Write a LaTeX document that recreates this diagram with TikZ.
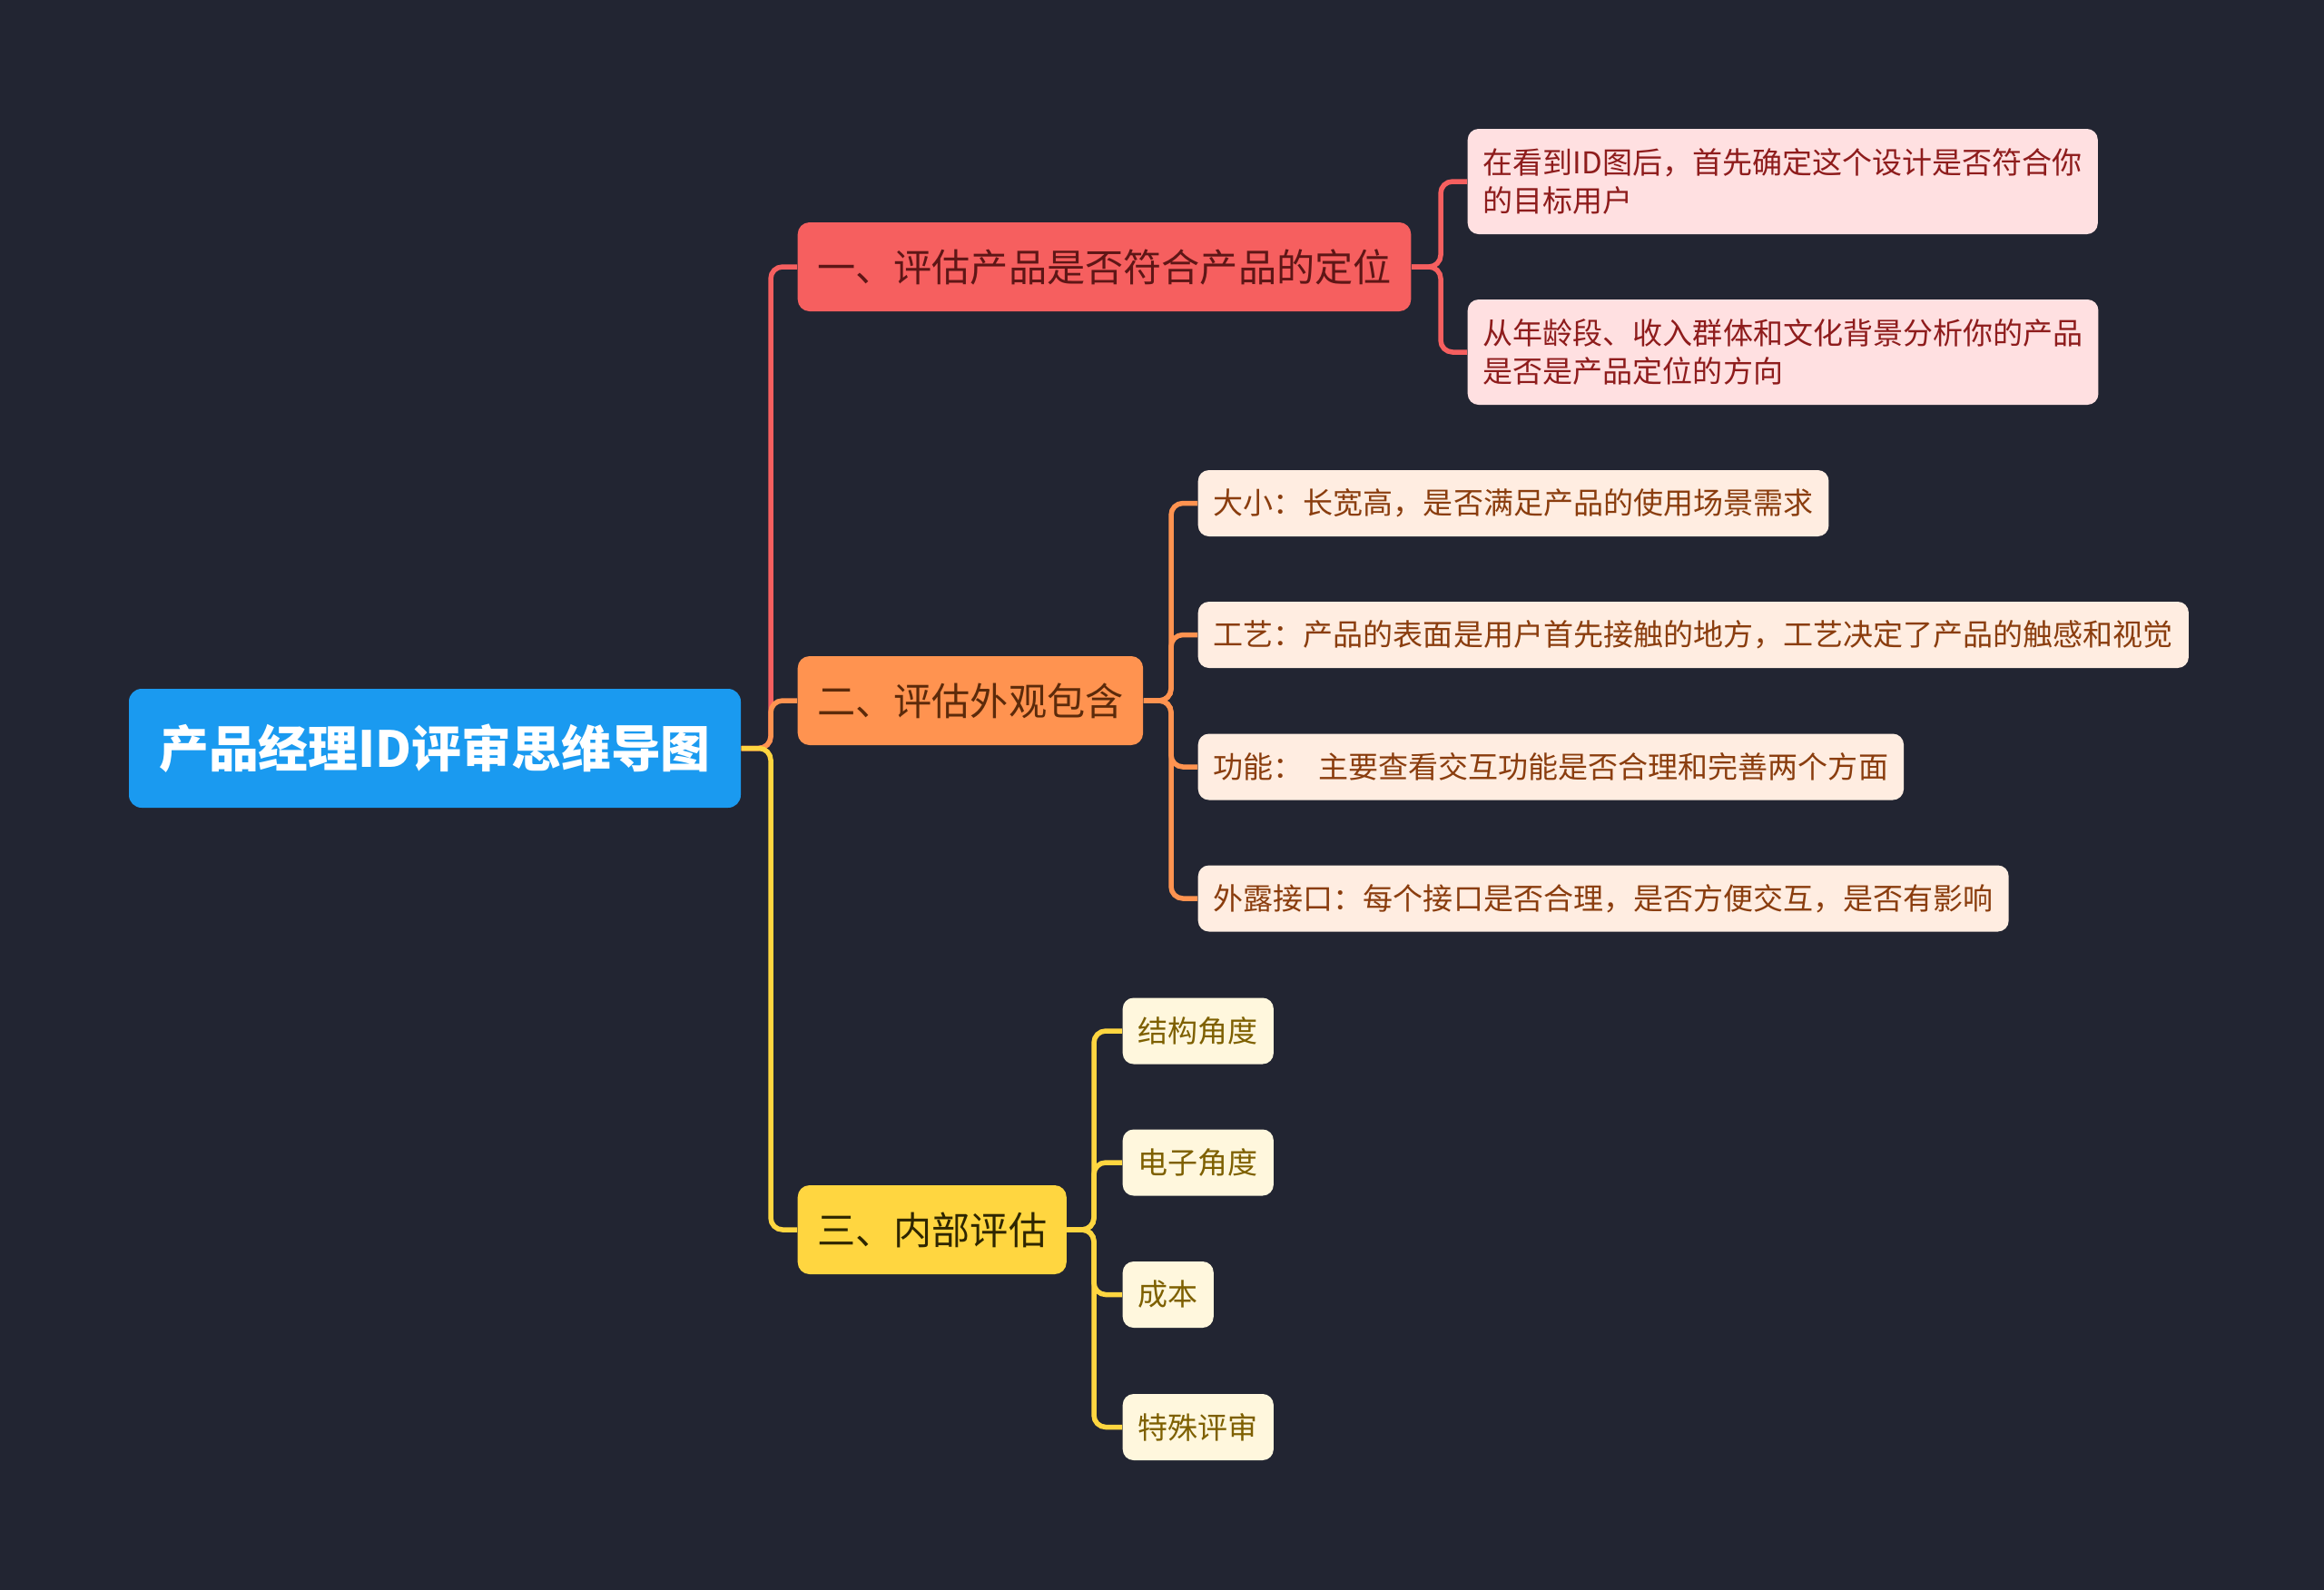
\documentclass[tikz,border=0pt]{standalone}
\usepackage{fontspec}
\newfontfamily\cjk{Noto Sans CJK SC}
\definecolor{bg}{HTML}{222532}
\definecolor{rootc}{HTML}{1A9AF0}
\definecolor{redc}{HTML}{F65F5F}
\definecolor{orac}{HTML}{FF9350}
\definecolor{yelc}{HTML}{FFD640}
\definecolor{redl}{HTML}{FFE0E1}
\definecolor{oral}{HTML}{FFEDE1}
\definecolor{yell}{HTML}{FFF7DD}
\definecolor{redt}{HTML}{5E1616}
\definecolor{orat}{HTML}{5C2A0A}
\definecolor{yelt}{HTML}{2E2600}
\definecolor{redlt}{HTML}{8E1C1C}
\definecolor{oralt}{HTML}{8A3D0E}
\definecolor{yellt}{HTML}{7E6000}
\begin{document}
\begin{tikzpicture}[x=1cm,y=-1cm,
  rootbox/.style={fill=rootc, rounded corners=0.14cm, text=white, font=\cjk\bfseries\fontsize{15.6}{18}\selectfont,
    minimum width=6.74cm, minimum height=1.31cm, inner sep=0pt, align=center},
  lvl/.style={rounded corners=0.13cm, anchor=west, font=\cjk\fontsize{12}{14}\selectfont,
    inner xsep=0.215cm, inner ysep=0pt, minimum height=0.98cm, align=left},
  leaf/.style={rounded corners=0.12cm, anchor=west, font=\cjk\fontsize{9.4}{12.1}\selectfont,
    inner xsep=0.17cm, inner ysep=0pt, minimum height=0.73cm, align=left},
  lr/.style={leaf, fill=redl, text=redlt, minimum height=1.16cm},
  lo/.style={leaf, fill=oral, text=oralt},
  ly/.style={leaf, fill=yell, text=yellt},
  conn/.style={line width=0.055cm, rounded corners=0.13cm}]
\fill[bg] (0,0) rectangle (25.6,17.52);
\useasboundingbox (0,0) rectangle (25.6,17.52);

\node[rootbox] (root) at (4.79,8.245) {产品经理ID评审思维导图};

\node[lvl, fill=redc, text=redt] (n1) at (8.78,2.94) {一、评估产品是否符合产品的定位};
\node[lvl, fill=orac, text=orat] (n2) at (8.78,7.72) {二、评估外观包含};
\node[lvl, fill=yelc, text=yelt] (n3) at (8.78,13.55) {三、内部评估};

\node[lr] (l1a) at (16.16,2.00) {在看到ID图后，首先确定这个设计是否符合你\\的目标用户};
\node[lr] (l1b) at (16.16,3.88) {从年龄段、收入群体和文化背景分析你的产品\\是否是产品定位的方向};

\node[lo] (l2a) at (13.19,5.545) {大小：长宽高，是否满足产品的使用场景需求};
\node[lo] (l2b) at (13.19,6.995) {工艺：产品的表面是用户首先接触的地方，工艺决定了产品的触感和视觉};
\node[lo] (l2c) at (13.19,8.45) {功能：\hspace{0.5em}主要查看交互功能是否合理和完善两个方面};
\node[lo] (l2d) at (13.19,9.90) {外露接口：每个接口是否合理，是否方便交互，是否有影响};

\node[ly] (l3a) at (12.36,11.36) {结构角度};
\node[ly] (l3b) at (12.36,12.81) {电子角度};
\node[ly] (l3c) at (12.36,14.265) {成本};
\node[ly] (l3d) at (12.36,15.725) {特殊评审};

\coordinate (j0) at (8.49,8.245);
\coordinate (j1) at (15.87,2.94);
\coordinate (j2) at (12.90,7.72);
\coordinate (j3) at (12.05,13.55);

\draw[conn, redc] (root.east) -- (j0) |- (n1.west);
\draw[conn, orac] (root.east) -- (j0) |- (n2.west);
\draw[conn, yelc] (root.east) -- (j0) |- (n3.west);

\draw[conn, redc] (n1.east) -- (j1) |- (l1a.west);
\draw[conn, redc] (n1.east) -- (j1) |- (l1b.west);

\draw[conn, orac] (n2.east) -- (j2) |- (l2a.west);
\draw[conn, orac] (n2.east) -- (j2) |- (l2b.west);
\draw[conn, orac] (n2.east) -- (j2) |- (l2c.west);
\draw[conn, orac] (n2.east) -- (j2) |- (l2d.west);

\draw[conn, yelc] (n3.east) -- (j3) |- (l3a.west);
\draw[conn, yelc] (n3.east) -- (j3) |- (l3b.west);
\draw[conn, yelc] (n3.east) -- (j3) |- (l3c.west);
\draw[conn, yelc] (n3.east) -- (j3) |- (l3d.west);
\end{tikzpicture}
\end{document}
